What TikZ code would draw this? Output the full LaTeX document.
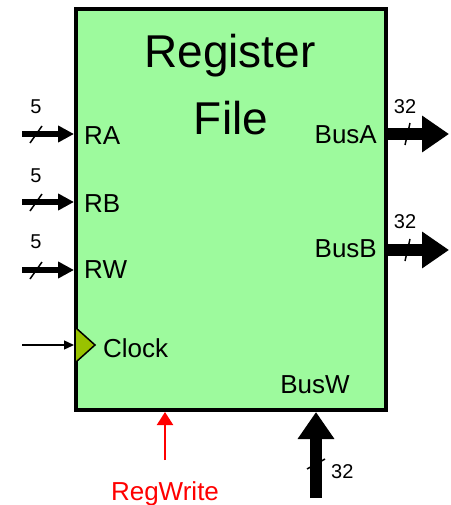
\documentclass[tikz,border=0pt]{standalone}
\usepackage{fontspec}
\setmainfont{Liberation Sans}
\usetikzlibrary{arrows.meta,calc}
\definecolor{regfill}{HTML}{9DFA9D}
\definecolor{clkfill}{HTML}{99C200}
\definecolor{ctrl}{HTML}{FF0000}

\begin{document}
\begin{tikzpicture}[
  x=1pt, y=-1pt,
  block/.style={draw=black, line width=4pt, fill=regfill,
                minimum width=310pt, minimum height=401pt},
  title/.style={font=\fontsize{46}{52}\selectfont, inner sep=0pt},
  pin/.style={font=\fontsize{26}{30}\selectfont, inner sep=0pt},
  bits/.style={font=\fontsize{20}{24}\selectfont, inner sep=0pt},
  narrow/.style={-{Triangle[length=16pt,width=16pt]}, line width=6pt},
  wide/.style={-{Triangle[length=27pt,width=35pt]}, line width=12pt},
  slash/.style={line width=1.5pt},
  clk/.style={-{Triangle[length=10pt,width=9pt]}, line width=1.3pt},
  wr/.style={-{Triangle[length=13pt,width=16pt]}, line width=2pt, draw=ctrl}
]
\useasboundingbox (0,0) rectangle (450,505);

% register file block
\node[block, anchor=north west] (rf) at (74,7) {};
\node[title, anchor=base] (reg) at (230,68) {Register};
\node[title, anchor=base] (file) at (231,135) {File};

% read / write address inputs
\coordinate (ra in) at (22,134);
\coordinate (rb in) at (22,202);
\coordinate (rw in) at (22,270);
\draw[narrow] (ra in) -- (ra in -| rf.west);
\draw[narrow] (rb in) -- (rb in -| rf.west);
\draw[narrow] (rw in) -- (rw in -| rf.west);
\draw[slash] ($(ra in)+(8,9)$) -- ++(12,-17);
\draw[slash] ($(rb in)+(8,9)$) -- ++(12,-17);
\draw[slash] ($(rw in)+(8,9)$) -- ++(12,-17);
\node[bits, anchor=base] (ra w) at (36,114) {5};
\node[bits, anchor=base] (rb w) at (36,182) {5};
\node[bits, anchor=base] (rw w) at (36,248) {5};
\node[pin, anchor=base west] (ra) at (84,145) {RA};
\node[pin, anchor=base west] (rb) at (84,212) {RB};
\node[pin, anchor=base west] (rw) at (84,278) {RW};

% clock
\coordinate (clk in) at (22,345);
\draw[clk] (clk in) -- (clk in -| rf.west);
\draw[fill=clkfill, line width=1.5pt, line join=miter] (76,328) -- (95,345) -- (76,362);
\node[pin, anchor=base west] (clock) at (103,357) {Clock};

% output buses
\coordinate (busa out) at (449,134);
\coordinate (busb out) at (449,250);
\draw[slash] (405,145) -- (410,123);
\draw[slash] (405,261) -- (410,239);
\draw[wide] (busa out -| rf.east) -- (busa out);
\draw[wide] (busb out -| rf.east) -- (busb out);
\node[bits, anchor=base] (busa w) at (405,114) {32};
\node[bits, anchor=base] (busb w) at (405,228) {32};
\node[pin, anchor=base east] (busa) at (377,143) {BusA};
\node[pin, anchor=base east] (busb) at (377,257) {BusB};

% write bus
\coordinate (busw in) at (316,498);
\draw[slash] (307,469) -- (325,459);
\draw[wide] (busw in) -- (busw in |- rf.south);
\node[bits, anchor=base west] (busw w) at (331,478) {32};
\node[pin, anchor=base] (busw) at (315,393) {BusW};

% write enable
\coordinate (we in) at (165,460);
\draw[wr] (we in) -- (we in |- rf.south);
\node[pin, anchor=base, text=ctrl] (regwrite) at (165,500) {RegWrite};

\end{tikzpicture}
\end{document}
